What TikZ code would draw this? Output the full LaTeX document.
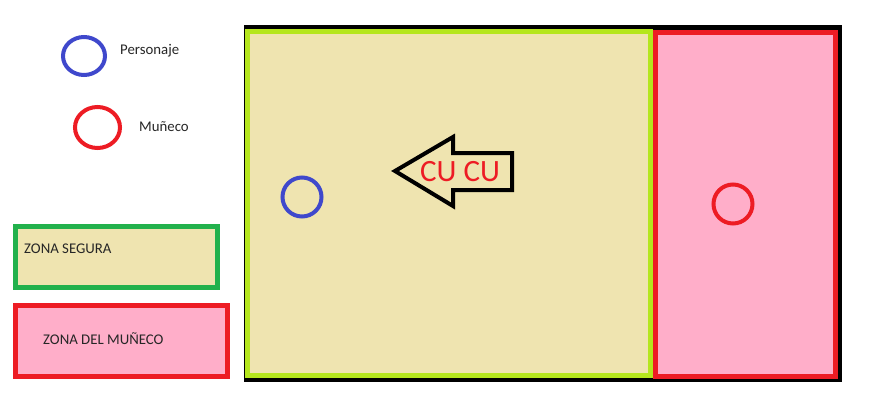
\documentclass[tikz,border=0pt]{standalone}
\usepackage{fontspec}
\setmainfont{Carlito}
\usetikzlibrary{shapes.geometric}
\definecolor{tan}{HTML}{EFE4B0}
\definecolor{pinkz}{HTML}{FFAEC9}
\definecolor{greenz}{HTML}{22B14C}
\definecolor{redz}{HTML}{ED1C24}
\definecolor{limez}{HTML}{B5E61D}
\definecolor{bluez}{HTML}{3F48CC}
\begin{document}
\begin{tikzpicture}[x=1pt,y=-1pt,
  ring/.style={draw=#1,line width=4pt,circle,inner sep=0pt},
  lbl/.style={font=\fontsize{14.8}{17}\selectfont,text=black!85,anchor=west,inner sep=0pt},
  zone/.style={line width=5pt}]
\useasboundingbox (0,0) rectangle (876,408);
% main frame
\fill[black] (244,25) rectangle (842,382);
\filldraw[zone,draw=limez,fill=tan] (247.5,31) rectangle (650.5,375.5);
\filldraw[zone,draw=redz,fill=pinkz] (655.5,32.5) rectangle (835.5,376.5);
% legend
\node[ring=bluez,ellipse,minimum width=42pt,minimum height=38pt] (lp) at (84,56) {};
\node[lbl] (tp) at (120,51) {Personaje};
\node[ring=redz,ellipse,minimum width=45pt,minimum height=41pt] (lm) at (97.5,127.5) {};
\node[lbl] (tm) at (139,127) {Muñeco};
\filldraw[zone,draw=greenz,fill=tan] (15.5,226.5) rectangle (217.5,287.5);
\node[lbl] (ts) at (24,249) {ZONA SEGURA};
\filldraw[zone,draw=redz,fill=pinkz] (15.5,305.5) rectangle (227.5,376.5);
\node[lbl] (tz) at (43,339) {ZONA DEL MUÑECO};
% characters
\node[ring=bluez,minimum size=39pt] (pj) at (302,197) {};
\node[ring=redz,minimum size=39pt] (mu) at (733,204) {};
% arrow
\draw[black,line width=4pt,line join=miter,fill=tan] (395,171) -- (453,137) -- (453,153) -- (512,153) -- (512,190) -- (453,190) -- (453,206) -- cycle;
\node[text=redz,font=\fontsize{31}{33}\selectfont,inner sep=0pt] (cu) at (460,172) {CU CU};
\end{tikzpicture}
\end{document}
